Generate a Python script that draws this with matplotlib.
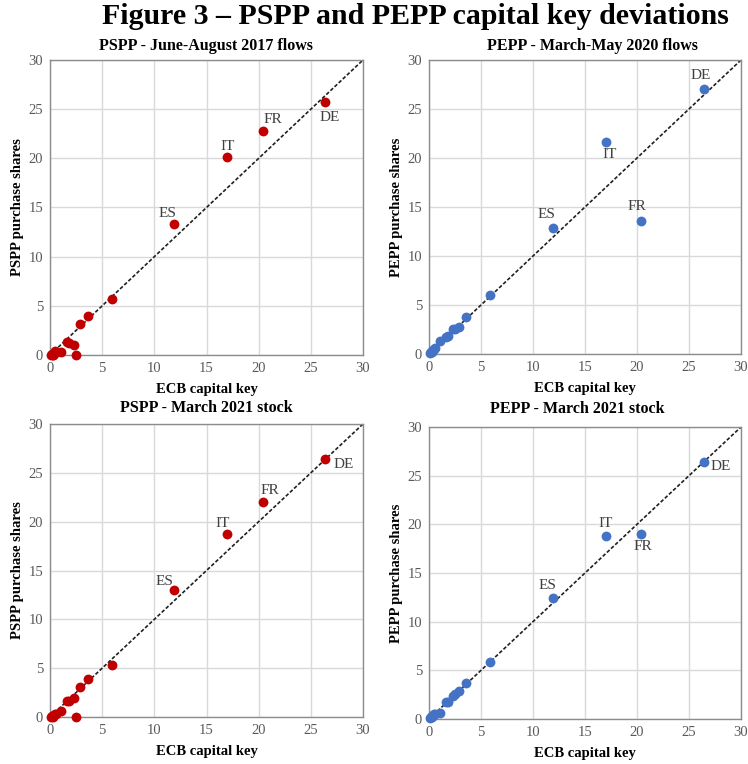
import matplotlib
matplotlib.use("Agg")
import matplotlib.pyplot as plt

plt.rcParams['font.family'] = ['Liberation Serif', 'DejaVu Serif']

countries = ["DE", "FR", "IT", "ES", "NL", "BE", "AT", "PT", "GR", "FI", "IE", "SK", "LT", "SI", "LV", "LU", "EE", "CY", "MT"]
capital_key = [26.4, 20.4, 17.0, 11.9, 5.9, 3.6, 2.9, 2.3, 2.5, 1.8, 1.6, 1.1, 0.6, 0.5, 0.4, 0.3, 0.3, 0.2, 0.1]

pspp_2017 = [25.7, 22.8, 20.1, 13.3, 5.7, 4.0, 3.2, 1.0, 0.0, 1.2, 1.3, 0.3, 0.35, 0.4, 0.1, 0.05, 0.0, 0.1, 0.05]
pepp_2020 = [27.0, 13.6, 21.6, 12.9, 6.05, 3.75, 2.8, 2.55, 2.6, 1.8, 1.75, 1.35, 0.6, 0.55, 0.4, 0.2, 0.3, 0.2, 0.1]
pspp_2021 = [26.4, 22.0, 18.7, 13.0, 5.3, 3.9, 3.1, 1.95, 0.0, 1.6, 1.6, 0.6, 0.3, 0.35, 0.2, 0.1, 0.05, 0.15, 0.05]
pepp_2021 = [26.4, 19.0, 18.8, 12.4, 5.9, 3.65, 2.85, 2.4, 2.6, 1.75, 1.7, 0.65, 0.55, 0.5, 0.4, 0.25, 0.3, 0.2, 0.1]

titles = ["PSPP - June-August 2017 flows", "PEPP - March-May 2020 flows",
          "PSPP - March 2021 stock", "PEPP - March 2021 stock"]
ylabels = ["PSPP purchase shares", "PEPP purchase shares", "PSPP purchase shares", "PEPP purchase shares"]
xlabel = "ECB capital key"
ticks = [0, 5, 10, 15, 20, 25, 30]

series = [pspp_2017, pepp_2020, pspp_2021, pepp_2021]
colors = ["#c00000", "#4472c4", "#c00000", "#4472c4"]

# label offsets in pixels (dx, dy) for labelled countries
label_offsets = [
    {"DE": (4, -15), "FR": (10, 11), "IT": (0, 11), "ES": (-7, 11)},
    {"DE": (-3, 14), "IT": (4, -12), "FR": (-4, 14), "ES": (-6, 13)},
    {"DE": (18, -5), "FR": (7, 12), "IT": (-5, 11), "ES": (-10, 9)},
    {"DE": (17, -4), "IT": (0, 13), "FR": (2, -12), "ES": (-5, 13)},
]

W, H = 748, 764
fig = plt.figure(figsize=(W / 100, H / 100), dpi=100)

# axes boxes in pixels: (x0, x1, ytop, ybottom)
boxes = [(50, 363, 60, 355), (429, 741, 60, 354), (50, 363, 424, 717), (429, 741, 427, 719)]
title_pos = [(206, 46), (592, 46), (206, 408), (577, 409)]

for i in range(4):
    x0, x1, yt, yb = boxes[i]
    ax = fig.add_axes([x0 / W, 1 - yb / H, (x1 - x0) / W, (yb - yt) / H])
    ax.set_xlim(0, 30)
    ax.set_ylim(0, 30)
    ax.set_xticks(ticks)
    ax.set_yticks(ticks)
    ax.grid(True, color="#d9d9d9", linewidth=1.0)
    ax.set_axisbelow(True)
    for s in ax.spines.values():
        s.set_color("#8c8c8c")
        s.set_linewidth(1.0)
    ax.tick_params(length=0, labelsize=10.5, labelcolor="#595959", pad=5)
    ax.plot([0, 30], [0, 30], linestyle=(0, (2.2, 1.2)), color="#202020", linewidth=1.2, zorder=2)
    ax.scatter(capital_key, series[i], s=50, color=colors[i], zorder=3, clip_on=False, linewidths=0)
    for c, (dx, dy) in label_offsets[i].items():
        k = countries.index(c)
        ax.annotate(c, (capital_key[k], series[i][k]), xytext=(dx, dy), textcoords="offset pixels",
                    ha="center", va="center", fontsize=11, color="#404040")
    ax.set_xlabel(xlabel, fontsize=10.5, fontweight="bold", labelpad=6)
    ax.set_ylabel(ylabels[i], fontsize=10.5, fontweight="bold", labelpad=3)
    tx, ty = title_pos[i]
    fig.text(tx / W, 1 - ty / H, titles[i], ha="center", va="center",
             fontsize=11.5, fontweight="bold")

fig.text(415 / W, 1 - 17 / H, "Figure 3 \u2013 PSPP and PEPP capital key deviations", ha="center", va="center",
         fontsize=21.5, fontweight="bold")

fig.savefig("out.png", dpi=100, facecolor="white")
